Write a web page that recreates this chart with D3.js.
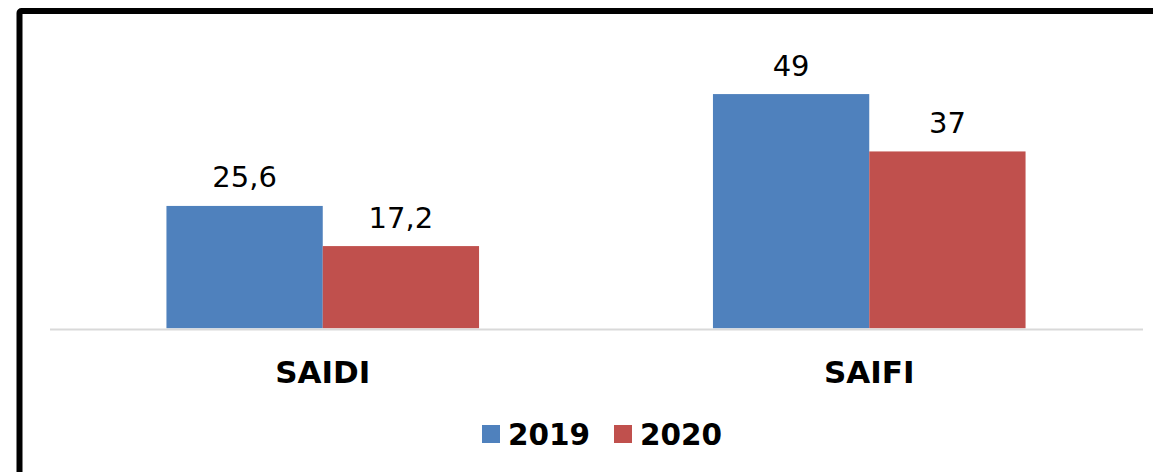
<!DOCTYPE html>
<html>
<head>
<meta charset="utf-8">
<script src="https://cdn.jsdelivr.net/npm/d3@7"></script>
<style>
  html, body { margin: 0; padding: 0; background: #fff; overflow: hidden; }
  svg { display: block; }
</style>
</head>
<body>
<svg id="chart" width="1153" height="472"></svg>
<script>
const categories = ["SAIDI", "SAIFI"];
const seriesNames = ["2019", "2020"];
const values2019 = [25.6, 49];
const values2020 = [17.2, 37];
const valueLabels2019 = ["25,6", "49"];
const valueLabels2020 = ["17,2", "37"];
const seriesColors = ["#4F81BD", "#C0504D"];

const series = [
  { name: seriesNames[0], values: values2019, labels: valueLabels2019, color: seriesColors[0] },
  { name: seriesNames[1], values: values2020, labels: valueLabels2020, color: seriesColors[1] }
];

const svg = d3.select("#chart");

// outer frame (extends past the right and bottom edges)
svg.append("rect")
  .attr("x", 19.5).attr("y", 11)
  .attr("width", 1300).attr("height", 700)
  .attr("rx", 2)
  .attr("fill", "#fff")
  .attr("stroke", "#000")
  .attr("stroke-width", 6);

const plotLeft = 49.5, plotRight = 1142.5;
const baseY = 328.3;

const x0 = d3.scaleBand()
  .domain(categories)
  .range([plotLeft, plotRight])
  .paddingInner(0.428)
  .paddingOuter(0.214);

const x1 = d3.scaleBand()
  .domain(seriesNames)
  .range([0, x0.bandwidth()])
  .padding(0);

const y = d3.scaleLinear()
  .domain([0, 60])
  .range([baseY, baseY - 60 * 4.78]);

// bars
const groups = svg.append("g").selectAll("g")
  .data(categories)
  .join("g")
  .attr("transform", d => `translate(${x0(d)},0)`);

groups.selectAll("rect")
  .data((c, i) => series.map(s => ({ name: s.name, value: s.values[i], label: s.labels[i], color: s.color })))
  .join("rect")
  .attr("x", d => x1(d.name))
  .attr("y", d => y(d.value))
  .attr("width", x1.bandwidth())
  .attr("height", d => y(0) - y(d.value))
  .attr("fill", d => d.color);

// value labels
groups.selectAll("text")
  .data((c, i) => series.map(s => ({ name: s.name, value: s.values[i], label: s.labels[i] })))
  .join("text")
  .attr("x", d => x1(d.name) + x1.bandwidth() / 2)
  .attr("y", d => y(d.value) - 18.5)
  .attr("text-anchor", "middle")
  .attr("font-family", "DejaVu Sans, sans-serif")
  .attr("font-size", 29)
  .attr("fill", "#000")
  .text(d => d.label);

// baseline axis
const xAxis = d3.axisBottom(x0).tickSize(0).tickPadding(0);
const axisG = svg.append("g")
  .attr("transform", `translate(0,${baseY + 0.7})`)
  .call(xAxis);
axisG.select(".domain")
  .attr("stroke", "#D9D9D9")
  .attr("stroke-width", 2);
axisG.selectAll(".tick text")
  .attr("dy", 0)
  .attr("y", 382.5 - (baseY + 0.7))
  .attr("font-family", "DejaVu Sans, sans-serif")
  .attr("font-weight", "bold")
  .attr("font-size", 31)
  .attr("fill", "#000");

// legend
const legendItems = [
  { name: seriesNames[0], color: seriesColors[0], x: 482 },
  { name: seriesNames[1], color: seriesColors[1], x: 614 }
];
const legend = svg.append("g");
const li = legend.selectAll("g").data(legendItems).join("g")
  .attr("transform", d => `translate(${d.x},0)`);
li.append("rect")
  .attr("x", 0).attr("y", 425)
  .attr("width", 18).attr("height", 18)
  .attr("fill", d => d.color);
li.append("text")
  .attr("x", 26).attr("y", 444.5)
  .attr("font-family", "DejaVu Sans, sans-serif")
  .attr("font-weight", "bold")
  .attr("font-size", 29.5)
  .attr("fill", "#000")
  .text(d => d.name);
</script>
</body>
</html>
